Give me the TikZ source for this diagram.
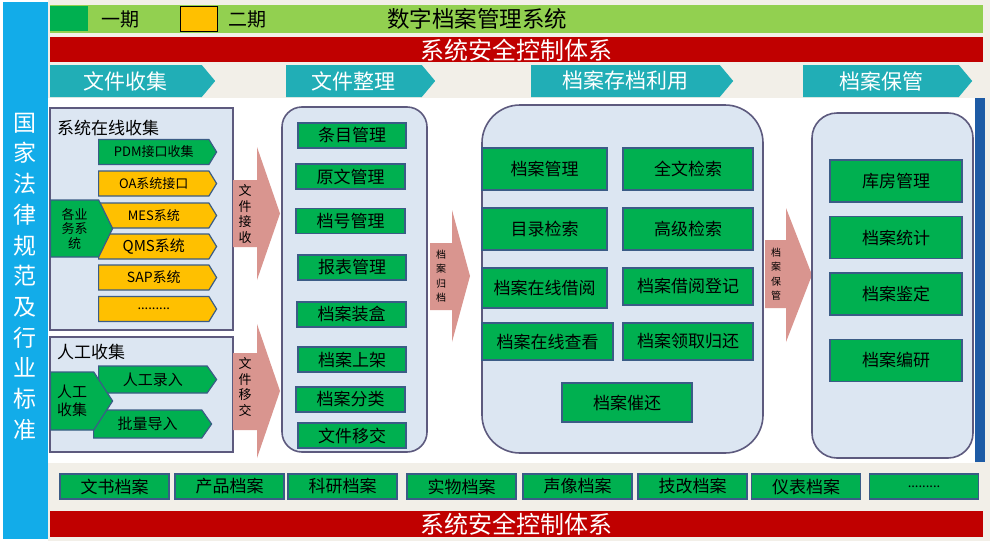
\documentclass[tikz,border=0pt]{standalone}
\usepackage{fontspec}
\setmainfont{Noto Sans CJK SC}
\usepackage{xcolor}
\usetikzlibrary{positioning,shapes.symbols}

\definecolor{lawblue}{HTML}{12ACE9}
\definecolor{topgreen}{HTML}{92D050}
\definecolor{safered}{HTML}{C00000}
\definecolor{tabteal}{HTML}{21AEB6}
\definecolor{panelfill}{HTML}{DCE6F2}
\definecolor{panelline}{HTML}{5D5A7E}
\definecolor{itemgreen}{HTML}{00B050}
\definecolor{itemorange}{HTML}{FFC000}
\definecolor{itemline}{HTML}{3B5C86}
\definecolor{flowpink}{HTML}{D9958F}
\definecolor{bgbeige}{HTML}{F2EFE8}
\definecolor{edgeblue}{HTML}{1E5BA5}

\begin{document}
\begin{tikzpicture}[
  x=1pt, y=-1pt,
  panel/.style={draw=panelline, fill=panelfill, line width=1.6pt, inner sep=0pt},
  item/.style={draw=itemline, fill=itemgreen, line width=1.4pt, inner sep=0pt, minimum height=25pt, font=\fontsize{17}{20}\selectfont},
  tab/.style={signal, signal to=east, signal pointer angle=100, fill=tabteal, minimum height=32pt, inner sep=0pt, anchor=west, text=white, font=\fontsize{21}{24}\selectfont},
  chev/.style={signal, signal to=east, signal pointer angle=117, draw=itemline, line width=1.2pt, minimum width=118pt, minimum height=25pt, inner sep=0pt, anchor=west, font=\fontsize{13}{15}\selectfont},
  phaseone/.style={fill=itemgreen},
  phasetwo/.style={fill=itemorange},
  source/.style={chev, phaseone, align=center},
  flow/.style={fill=flowpink},
  flowtext/.style={align=center, inner sep=0pt, font=\fontsize{13}{15.5}\selectfont},
  smallflowtext/.style={align=center, inner sep=0pt, font=\fontsize{10}{14.5}\selectfont}
]
\useasboundingbox (0,0) rectangle (992,541);
\fill[white] (0,0) rectangle (992,541);
\fill[bgbeige] (48,0) rectangle (990,541);
\fill[white] (48,98) rectangle (975,463);
\fill[edgeblue] (975,98) rectangle (985,462);

% left band
\fill[lawblue] (3,2) rectangle (48,539);
\node[text=white, align=center, inner sep=0pt, font=\fontsize{23}{30.7}\selectfont] (law) at (25,276.5)
  {国\\家\\法\\律\\规\\范\\及\\行\\业\\标\\准};

% title bar and legend
\node[fill=topgreen, minimum width=933pt, minimum height=28pt, inner sep=0pt] (titlebar) at (516.5,19) {};
\node[fill=itemgreen, minimum width=38pt, minimum height=25pt, inner sep=0pt] (keyone) at (69,18.5) {};
\node[anchor=west, font=\fontsize{19}{22}\selectfont, inner sep=0pt] (keyonetext) at (101,19) {一期};
\node[draw=black, line width=0.8pt, fill=itemorange, minimum width=37pt, minimum height=25pt, inner sep=0pt] (keytwo) at (198.5,18.5) {};
\node[anchor=west, font=\fontsize{19}{22}\selectfont, inner sep=0pt] (keytwotext) at (228,19) {二期};
\node[font=\fontsize{22.5}{26}\selectfont, inner sep=0pt] (title) at (477,19) {数字档案管理系统};

% security bars
\node[fill=safered, minimum width=933pt, minimum height=25pt, inner sep=0pt] (safetop) at (516.5,49.5) {};
\node[text=white, font=\fontsize{24}{26}\selectfont, inner sep=0pt] (safetoptext) at (516,50) {系统安全控制体系};
\node[fill=safered, minimum width=933pt, minimum height=26pt, inner sep=0pt] (safebot) at (516.5,524) {};
\node[text=white, font=\fontsize{24}{26}\selectfont, inner sep=0pt] (safebottext) at (516,524.5) {系统安全控制体系};

% stage tabs
\node[tab, minimum width=165pt] (collect) at (50,81) {文件收集};
\node[tab, minimum width=149pt] (arrange) at (286,81) {文件整理};
\node[tab, minimum width=202pt] (use) at (531,81) {档案存档利用};
\node[tab, minimum width=169pt] (keep) at (803,81) {档案保管};

% collection panels
\node[panel, minimum width=183pt, minimum height=222pt] (online) at (141.5,219) {};
\node[anchor=west, inner sep=0pt, font=\fontsize{17}{20}\selectfont] (onlinetitle) at (57,128) {系统在线收集};
\node[chev, phaseone] (pdm) at (98,152) {PDM接口收集};
\node[chev, phasetwo] (oa) at (98,183.5) {OA系统接口};
\node[chev, phasetwo] (mes) at (98,215.5) {MES系统};
\node[chev, phasetwo, font=\fontsize{15}{17}\selectfont] (qms) at (98,246.5) {QMS系统};
\node[chev, phasetwo, font=\fontsize{14}{16}\selectfont] (sap) at (98,277.5) {SAP系统};
\node[chev, phasetwo] (more) at (98,309) {.........};
\node[source, signal pointer angle=128, minimum width=62pt, minimum height=57pt, font=\fontsize{13}{14.5}\selectfont] (business) at (50,228.5) {各业\\务系\\统};

\node[panel, minimum width=183pt, minimum height=115pt] (manual) at (141.5,394.5) {};
\node[anchor=west, inner sep=0pt, font=\fontsize{17}{20}\selectfont] (manualtitle) at (57,352) {人工收集};
\node[chev, phaseone, signal pointer angle=110, minimum height=27pt, font=\fontsize{15}{17}\selectfont] (entry) at (98,379.5) {人工录入};
\node[chev, phaseone, signal pointer angle=110, minimum height=28pt, font=\fontsize{15}{17}\selectfont] (batch) at (93,424) {批量导入};
\node[source, signal pointer angle=114, minimum width=62pt, minimum height=58pt, font=\fontsize{15}{18}\selectfont] (hand) at (50,401) {人工\\收集};

% flow arrows
\fill[flow] (233,180) -- (257,180) -- (257,147) -- (280,213.5) -- (257,280) -- (257,247) -- (233,247) -- cycle;
\node[flowtext] (receive) at (245,214) {文\\件\\接\\收};
\fill[flow] (233,353) -- (257,353) -- (257,324) -- (280,391) -- (257,458) -- (257,430) -- (233,430) -- cycle;
\node[flowtext] (transfer) at (245,387) {文\\件\\移\\交};
\fill[flow] (430,243) -- (452,243) -- (452,210) -- (470,276) -- (452,342) -- (452,310) -- (430,310) -- cycle;
\node[smallflowtext] (file) at (441,276) {档\\案\\归\\档};
\fill[flow] (765,240) -- (786,240) -- (786,208) -- (812,275) -- (786,342) -- (786,308) -- (765,308) -- cycle;
\node[smallflowtext] (store) at (776,274) {档\\案\\保\\管};

% arranging panel
\node[panel, rounded corners=20pt, minimum width=145pt, minimum height=345pt] (arrangebox) at (354.5,279.5) {};
\node[item, minimum width=108pt] (entries) at (352,135.5) {条目管理};
\node[item, minimum width=109pt] (originals) at (350.5,176.5) {原文管理};
\node[item, minimum width=109pt] (numbers) at (350.5,221) {档号管理};
\node[item, minimum width=108pt] (reports) at (352,267.5) {报表管理};
\node[item, minimum width=109pt] (boxing) at (351.5,314.5) {档案装盒};
\node[item, minimum width=108pt] (shelving) at (352,359.5) {档案上架};
\node[item, minimum width=109pt] (sorting) at (350.5,399.5) {档案分类};
\node[item, minimum width=108pt] (handover) at (352,435.5) {文件移交};

% using panel
\node[panel, rounded corners=38pt, minimum width=281pt, minimum height=348pt] (usebox) at (622.5,279) {};
\node[item, minimum width=125pt, minimum height=42pt] (records) at (544.5,169) {档案管理};
\node[item, minimum width=130pt, minimum height=42pt] (fulltext) at (688,169) {全文检索};
\node[item, minimum width=125pt, minimum height=42pt] (catalog) at (544.5,229) {目录检索};
\node[item, minimum width=130pt, minimum height=42pt] (advanced) at (688,229) {高级检索};
\node[item, minimum width=125pt, minimum height=40pt] (borrow) at (544.5,288) {档案在线借阅};
\node[item, minimum width=130pt, minimum height=37pt] (register) at (688,286.5) {档案借阅登记};
\node[item, minimum width=131pt, minimum height=37pt] (view) at (547.5,341.5) {档案在线查看};
\node[item, minimum width=130pt, minimum height=37pt] (giveback) at (688,341.5) {档案领取归还};
\node[item, minimum width=130pt, minimum height=39pt] (remind) at (627,402.5) {档案催还};

% keeping panel
\node[panel, rounded corners=25pt, minimum width=161pt, minimum height=345pt] (keepbox) at (892.5,285.5) {};
\node[item, minimum width=132pt, minimum height=42pt] (storeroom) at (896,181) {库房管理};
\node[item, minimum width=132pt, minimum height=42pt] (stats) at (896,237.5) {档案统计};
\node[item, minimum width=132pt, minimum height=42pt] (appraise) at (896,294) {档案鉴定};
\node[item, minimum width=132pt, minimum height=42pt] (compile) at (896,360.5) {档案编研};

% archive kinds
\node[item, minimum width=109pt] (docs) at (114.5,486.5) {文书档案};
\node[item, minimum width=109pt] (products) at (229.5,486.5) {产品档案};
\node[item, minimum width=109pt] (research) at (342.5,486.5) {科研档案};
\node[item, minimum width=109pt] (objects) at (461.5,486.5) {实物档案};
\node[item, minimum width=109pt] (media) at (577.5,486.5) {声像档案};
\node[item, minimum width=109pt] (retrofit) at (692.5,486.5) {技改档案};
\node[item, minimum width=109pt] (meters) at (806,486.5) {仪表档案};
\node[item, minimum width=109pt, font=\fontsize{13}{15}\selectfont] (others) at (924,486.5) {.........};
\end{tikzpicture}
\end{document}
